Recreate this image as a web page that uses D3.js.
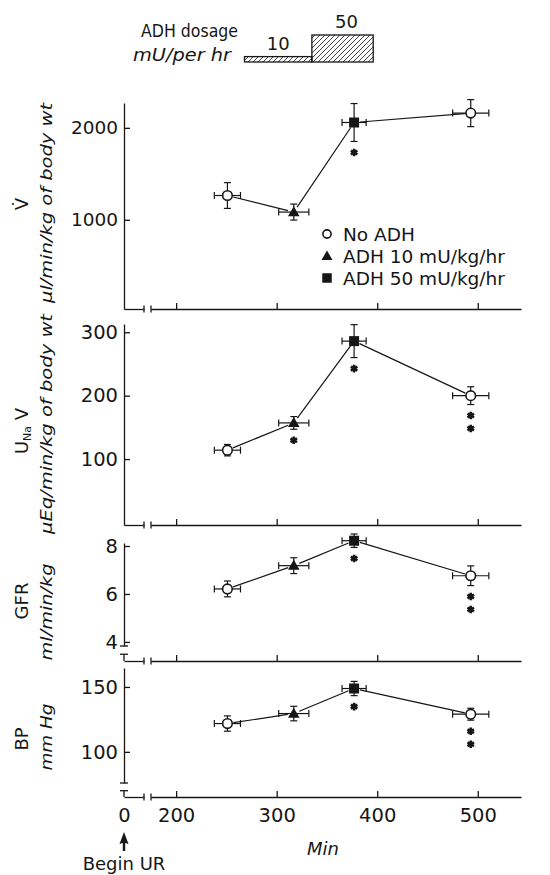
<!DOCTYPE html>
<html>
<head>
<meta charset="utf-8">
<script src="https://cdn.jsdelivr.net/npm/d3@7"></script>
<style>
  html, body { margin: 0; padding: 0; background: #fff; }
  svg { display: block; font-family: "DejaVu Sans", "Liberation Sans", sans-serif; }
</style>
</head>
<body>
<svg id="chart" width="550" height="875"></svg>
<script>
// Sampling times (min after the start of urine collection) and their spread
const times = [251, 317, 377, 493];
const timeErr = [13, 15, 12, 18];
const treatment = ["none", "adh10", "adh50", "none"];

// Urine flow, µl/min/kg body wt
const urineFlow = [1264, 1084, 2058, 2160];
const urineFlowErr = [140, 87, 206, 147];
const urineFlowStars = [0, 0, 1, 0];
const urineFlowTicks = [1000, 2000];

// Sodium excretion, µEq/min/kg body wt
const sodiumExcretion = [114, 157, 286, 200];
const sodiumExcretionErr = [9, 10, 26, 14];
const sodiumStars = [0, 1, 1, 2];
const sodiumTicks = [100, 200, 300];

// Glomerular filtration rate, ml/min/kg
const gfr = [6.21, 7.18, 8.22, 6.76];
const gfrErr = [0.33, 0.33, 0.28, 0.41];
const gfrStars = [0, 0, 1, 2];
const gfrTicks = [4, 6, 8];

// Blood pressure, mm Hg
const bloodPressure = [121.8, 129.5, 148.8, 129];
const bloodPressureErr = [5.9, 5.6, 5.5, 4.6];
const bpStars = [0, 0, 1, 2];
const bpTicks = [100, 150];

const timeTicks = [200, 300, 400, 500];

// ADH infusion schedule (min) and rate (mU/hr)
const doseStart = [268, 335];
const doseEnd = [335, 396];
const doseRate = [10, 50];

const legendKeys = ["none", "adh10", "adh50"];
const legendLabels = ["No ADH", "ADH 10 mU/kg/hr", "ADH 50 mU/kg/hr"];

const INK = "#161616";
const svg = d3.select("#chart");
const plain = d => String(d);

// Time axis: a short segment for t = 0, a break, then the 175–543 min range
const x = d3.scaleLinear().domain([175, 543]).range([151, 521]);
const xZero = d3.scaleLinear().domain([0, 20]).range([124, 144]);
const yAxisX = xZero(0);

const defs = svg.append("defs");
const hatch = defs.append("pattern")
  .attr("id", "hatch").attr("patternUnits", "userSpaceOnUse")
  .attr("width", 5).attr("height", 5);
hatch.append("path")
  .attr("d", "M-1,1 l2,-2 M0,5 l5,-5 M4,6 l2,-2")
  .attr("stroke", INK).attr("stroke-width", 0.8);

// ---- Dosage schedule at the top ----
const doseY = d3.scaleLinear().domain([0, 50]).range([62, 35]);
const doseG = svg.append("g");
doseRate.forEach((r, i) => {
  doseG.append("rect")
    .attr("x", x(doseStart[i])).attr("y", doseY(r))
    .attr("width", x(doseEnd[i]) - x(doseStart[i]))
    .attr("height", doseY(0) - doseY(r))
    .attr("fill", "url(#hatch)").attr("stroke", INK).attr("stroke-width", 1.3);
  doseG.append("text")
    .attr("x", (x(doseStart[i]) + x(doseEnd[i])) / 2 + (i === 1 ? 4 : 0))
    .attr("y", doseY(r) - 7)
    .attr("text-anchor", "middle").attr("font-size", 18).attr("fill", INK)
    .text(r);
});
doseG.append("text").attr("x", 238).attr("y", 37)
  .attr("text-anchor", "end").attr("font-size", 18.5).attr("fill", INK)
  .attr("textLength", 97).attr("lengthAdjust", "spacingAndGlyphs")
  .text("ADH dosage");
doseG.append("text").attr("x", 231).attr("y", 61)
  .attr("text-anchor", "end").attr("font-size", 17).attr("font-style", "italic").attr("fill", INK)
  .attr("textLength", 98).attr("lengthAdjust", "spacingAndGlyphs")
  .text("mU/per hr");

// ---- Panels ----
const panels = [
  { values: urineFlow, err: urineFlowErr, stars: urineFlowStars, ticks: urineFlowTicks,
    domain: [30, 2270], top: 103, bottom: 309, axisY: 309, fs: 18.5,
    title: [["V\u0307", 0]], titleY: 204, unit: "\u03bcl/min/kg of body wt", unitY: 203, unitLen: 200 },
  { values: sodiumExcretion, err: sodiumExcretionErr, stars: sodiumStars, ticks: sodiumTicks,
    domain: [-4, 313], top: 324, bottom: 525, axisY: 525, fs: 19.5,
    title: [["U", 0], ["Na", 1], [" V", 0]], titleY: 431, unit: "\u03bcEq/min/kg of body wt", unitY: 424, unitLen: 220 },
  { values: gfr, err: gfrErr, stars: gfrStars, ticks: gfrTicks,
    domain: [3.83, 8.125], top: 543, bottom: 646, axisY: 661, fs: 19.5,
    title: [["GFR", 0]], titleY: 601, unit: "ml/min/kg", unitY: 612, unitLen: 97 },
  { values: bloodPressure, err: bloodPressureErr, stars: bpStars, ticks: bpTicks,
    domain: [76, 164.6], top: 668, bottom: 783, axisY: 797, fs: 19.5,
    title: [["BP", 0]], titleY: 739, unit: "mm Hg", unitY: 737, unitLen: 67 }
];

function marker(g, key, cx, cy, k) {
  if (key === "none") {
    g.append("circle").attr("cx", cx).attr("cy", cy).attr("r", 4.8 * k)
      .attr("fill", "#fff").attr("stroke", INK).attr("stroke-width", 1.6);
  } else if (key === "adh10") {
    g.append("path").attr("d", d3.symbol(d3.symbolTriangle, 58 * k * k)())
      .attr("transform", `translate(${cx},${cy + 0.8})`).attr("fill", INK);
  } else {
    const s = 10 * k;
    g.append("rect").attr("x", cx - s / 2).attr("y", cy - s / 2)
      .attr("width", s).attr("height", s).attr("fill", INK);
  }
}

const lastIndex = panels.length - 1;
panels.forEach((p, pi) => {
  const y = d3.scaleLinear().domain(p.domain).range([p.bottom, p.top]);
  const g = svg.append("g");

  // y axis with inward ticks
  const ya = g.append("g").attr("transform", `translate(${yAxisX},0)`)
    .call(d3.axisLeft(y).tickValues(p.ticks).tickFormat(plain)
      .tickSizeInner(-6).tickSizeOuter(0).tickPadding(6));
  ya.selectAll("path, line").attr("stroke", INK).attr("stroke-width", 1.3);
  ya.selectAll("text").attr("font-size", p.fs).attr("fill", INK).attr("font-family", "DejaVu Sans");

  // broken y axis below the scale
  if (p.axisY !== p.bottom) {
    g.append("line").attr("x1", yAxisX - 4).attr("x2", yAxisX + 4)
      .attr("y1", p.bottom).attr("y2", p.bottom).attr("stroke", INK).attr("stroke-width", 1.3);
    const segTop = p.axisY - (p.axisY - p.bottom) * 0.45;
    g.append("line").attr("x1", yAxisX - 4).attr("x2", yAxisX + 4)
      .attr("y1", segTop).attr("y2", segTop).attr("stroke", INK).attr("stroke-width", 1.3);
    g.append("line").attr("x1", yAxisX).attr("x2", yAxisX)
      .attr("y1", segTop).attr("y2", p.axisY).attr("stroke", INK).attr("stroke-width", 1.3);
  }

  // time axis: zero segment + broken main segment
  const isLast = pi === lastIndex;
  const za = g.append("g").attr("transform", `translate(0,${p.axisY})`)
    .call(d3.axisBottom(xZero).tickValues([0]).tickFormat(plain)
      .tickSizeInner(0).tickSizeOuter(0).tickPadding(11));
  const xa = g.append("g").attr("transform", `translate(0,${p.axisY})`)
    .call(d3.axisBottom(x).tickValues(timeTicks).tickFormat(plain)
      .tickSizeInner(-6).tickSizeOuter(0).tickPadding(11));
  [za, xa].forEach(a => {
    a.selectAll("path, line").attr("stroke", INK).attr("stroke-width", 1.3);
    a.selectAll("text").attr("font-size", 19.5).attr("fill", INK).attr("font-family", "DejaVu Sans");
    if (!isLast) a.selectAll("text").remove();
  });
  [xZero.range()[1], x.range()[0]].forEach(bx => {
    g.append("line").attr("x1", bx).attr("x2", bx)
      .attr("y1", p.axisY - 3.5).attr("y2", p.axisY + 3.5)
      .attr("stroke", INK).attr("stroke-width", 1.3);
  });

  // axis titles (rotated)
  const tt = g.append("text")
    .attr("transform", `translate(28,${p.titleY}) rotate(-90)`)
    .attr("text-anchor", "middle").attr("font-size", 18).attr("fill", INK);
  p.title.forEach(([s, sub]) => {
    const ts = tt.append("tspan").text(s);
    if (sub) ts.attr("font-size", 11).attr("baseline-shift", "-25%");
  });
  g.append("text")
    .attr("transform", `translate(52,${p.unitY}) rotate(-90)`)
    .attr("text-anchor", "middle").attr("font-size", 16.5).attr("font-style", "italic")
    .attr("textLength", p.unitLen).attr("lengthAdjust", "spacingAndGlyphs")
    .attr("fill", INK).text(p.unit);

  const pts = p.values.map((v, i) => ({ cx: x(times[i]), cy: y(v), i }));

  // connecting line, stopping short of the symbols
  for (let i = 0; i < pts.length - 1; i++) {
    const a = pts[i], b = pts[i + 1];
    const dx = b.cx - a.cx, dy = b.cy - a.cy, len = Math.hypot(dx, dy);
    const ux = dx / len, uy = dy / len, gap = 6;
    g.append("line")
      .attr("x1", a.cx + ux * gap).attr("y1", a.cy + uy * gap)
      .attr("x2", b.cx - ux * gap).attr("y2", b.cy - uy * gap)
      .attr("stroke", INK).attr("stroke-width", 1.2);
  }

  // error bars
  pts.forEach(({ cx, cy, i }) => {
    const v = p.values[i], e = p.err[i];
    const y0 = y(v - e), y1 = y(v + e);
    const x0 = x(times[i] - timeErr[i]), x1 = x(times[i] + timeErr[i]);
    const eg = g.append("g").attr("stroke", INK).attr("stroke-width", 1.2);
    eg.append("line").attr("x1", cx).attr("x2", cx).attr("y1", y0).attr("y2", y1);
    eg.append("line").attr("x1", cx - 3.5).attr("x2", cx + 3.5).attr("y1", y0).attr("y2", y0);
    eg.append("line").attr("x1", cx - 3.5).attr("x2", cx + 3.5).attr("y1", y1).attr("y2", y1);
    eg.append("line").attr("x1", x0).attr("x2", x1).attr("y1", cy).attr("y2", cy);
    eg.append("line").attr("x1", x0).attr("x2", x0).attr("y1", cy - 3.5).attr("y2", cy + 3.5);
    eg.append("line").attr("x1", x1).attr("x2", x1).attr("y1", cy - 3.5).attr("y2", cy + 3.5);

    // significance marks under the lower error bar
    for (let s = 0; s < p.stars[i]; s++) {
      g.append("path").attr("d", d3.symbol(d3.symbolAsterisk, 40)())
        .attr("transform", `translate(${cx},${y0 + 11 + s * 13})`)
        .attr("stroke", INK).attr("stroke-width", 2.6).attr("fill", "none");
    }
  });

  pts.forEach(({ cx, cy, i }) => marker(g, treatment[i], cx, cy, 1));
});

// ---- Legend ----
const legend = svg.append("g");
legendKeys.forEach((k, i) => {
  const cy = 234 + i * 22;
  marker(legend, k, 327, cy, k === "none" ? 0.85 : 0.95);
  legend.append("text").attr("x", 343).attr("y", cy + 6.5)
    .attr("font-size", 18.5).attr("fill", INK).text(legendLabels[i]);
});

// ---- Bottom annotations ----
svg.append("text").attr("x", 323).attr("y", 855)
  .attr("text-anchor", "middle").attr("font-size", 18).attr("font-style", "italic")
  .attr("fill", INK).text("Min");

const ax = xZero(0);
svg.append("path")
  .attr("d", `M${ax},832 L${ax + 4.5},844 L${ax + 1.2},843 L${ax + 1.2},851 L${ax - 1.2},851 L${ax - 1.2},843 L${ax - 4.5},844 Z`)
  .attr("fill", INK);
svg.append("text").attr("x", ax).attr("y", 870)
  .attr("text-anchor", "middle").attr("font-size", 18).attr("font-style", "normal").attr("fill", INK)
  .text("Begin UR");
</script>
</body>
</html>
